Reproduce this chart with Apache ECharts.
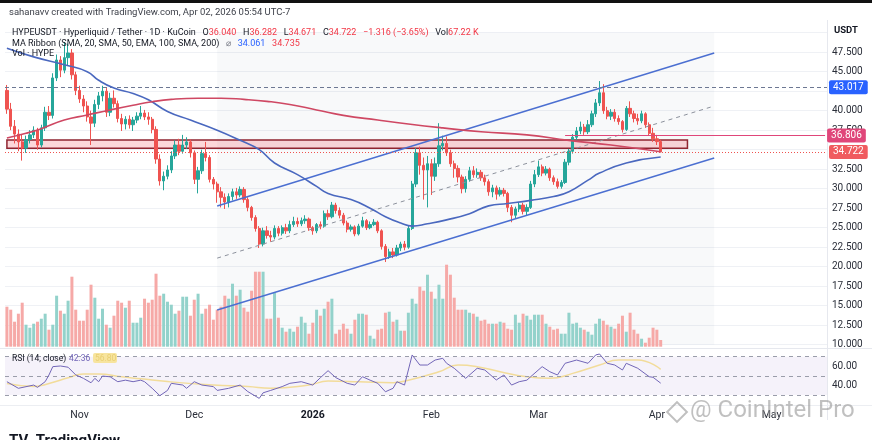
<!DOCTYPE html>
<html>
<head>
<meta charset="utf-8">
<title>HYPEUSDT 1D</title>
<script src="https://cdn.jsdelivr.net/npm/echarts@6/dist/echarts.min.js"></script>
<style>
  html, body { margin: 0; padding: 0; background: #fff; }
  #main { width: 872px; height: 440px; }
</style>
</head>
<body>
<div id="main"></div>
<script>
// daily candles, first one on startDate, then empty days to the right of the last candle
var startDate = '2025-10-13';
var futureDays = 43;
var monthNames = ['Jan', 'Feb', 'Mar', 'Apr', 'May', 'Jun', 'Jul', 'Aug', 'Sep', 'Oct', 'Nov', 'Dec'];

var opens = [42.6,40.2,38.0,37.0,36.0,35.2,36.3,36.9,37.5,35.6, 37.8,39.8,39.4,44.2,46.5,45.2,46.8,47.4,44.6,42.6,
  41.5,40.6,39.2,38.4,40.8,41.9,42.5,39.8,41.6,40.9, 39.0,38.3,38.9,38.2,38.8,39.3,39.7,39.2,38.9,37.6,
  33.8,31.0,31.6,32.4,34.2,35.6,34.8,35.6,36.0,34.6, 31.2,32.3,34.5,34.0,31.2,30.6,29.6,28.9,28.3,29.0,
  29.6,29.2,29.9,28.6,27.6,26.3,24.9,22.9,24.6,24.0, 23.8,24.9,24.3,25.0,24.6,25.4,25.8,25.5,25.9,26.1,
  25.0,24.6,25.4,25.2,26.8,26.4,27.9,27.2,26.6,25.6, 24.8,25.1,24.2,25.2,25.9,25.0,25.4,25.7,24.6,22.6,
  21.3,21.9,21.5,22.4,22.9,22.5,24.9,30.6,34.6,33.0, 32.4,33.2,31.6,33.2,35.5,35.8,34.6,33.2,32.6,31.5,
  30.0,31.2,32.3,31.8,32.1,31.4,30.9,29.6,30.1,29.3, 29.8,29.4,27.6,26.6,27.4,27.9,27.1,27.6,30.6,31.8,
  32.8,32.0,32.5,31.4,30.9,30.3,30.8,33.4,34.8,36.6, 37.4,37.9,37.3,38.2,39.6,41.0,42.3,40.0,39.3,39.8,
  39.0,38.6,37.6,40.3,39.6,39.0,38.7,39.6,38.2,37.1, 36.4,36.04];
var closes = [40.2,38.0,37.0,36.0,35.2,36.3,36.9,37.5,35.6,37.8, 39.8,39.4,44.2,46.5,45.2,46.8,47.4,44.6,42.6,41.5,
  40.6,39.2,38.4,40.8,41.9,42.5,39.8,41.6,40.9,39.0, 38.3,38.9,38.2,38.8,39.3,39.7,39.2,38.9,37.6,33.8,
  31.0,31.6,32.4,34.2,35.6,34.8,35.6,36.0,34.6,31.2, 32.3,34.5,34.0,31.2,30.6,29.6,28.9,28.3,29.0,29.6,
  29.2,29.9,28.6,27.6,26.3,24.9,22.9,24.6,24.0,23.8, 24.9,24.3,25.0,24.6,25.4,25.8,25.5,25.9,26.1,25.0,
  24.6,25.4,25.2,26.8,26.4,27.9,27.2,26.6,25.6,24.8, 25.1,24.2,25.2,25.9,25.0,25.4,25.7,24.6,22.6,21.3,
  21.9,21.5,22.4,22.9,22.5,24.9,30.6,34.6,33.0,32.4, 33.2,31.6,33.2,35.5,35.8,34.6,33.2,32.6,31.5,30.0,
  31.2,32.3,31.8,32.1,31.4,30.9,29.6,30.1,29.3,29.8, 29.4,27.6,26.6,27.4,27.9,27.1,27.6,30.6,31.8,32.8,
  32.0,32.5,31.4,30.9,30.3,30.8,33.4,34.8,36.6,37.4, 37.9,37.3,38.2,39.6,41.0,42.3,40.0,39.3,39.8,39.0,
  38.6,37.6,40.3,39.6,39.0,38.7,39.6,38.2,37.1,36.4, 36.04,34.722];
var lows = [39.6,37.5,35.8,34.8,33.6,34.6,35.8,36.5,35.0,35.3, 37.4,38.8,39.0,43.8,44.3,44.8,45.8,44.0,42.0,41.0,
  39.8,38.6,35.6,37.9,40.2,41.2,39.2,39.3,40.4,38.5, 37.4,37.6,37.7,37.4,38.4,38.9,38.8,38.2,37.1,33.2,
  30.4,29.8,31.2,32.0,33.8,34.3,34.5,35.1,34.0,30.6, 29.4,31.9,33.5,30.8,29.9,28.2,27.6,27.4,27.6,28.5,
  28.7,28.9,28.2,27.1,25.9,24.5,22.4,22.6,23.6,23.2, 23.5,23.9,24.0,24.2,24.3,25.1,25.1,25.2,25.5,24.6,
  24.1,24.3,24.8,25.0,26.0,26.2,26.8,26.2,25.3,24.4, 24.5,23.9,24.0,25.0,24.7,24.8,25.2,24.3,22.2,20.6,
  21.0,21.1,21.3,22.0,22.1,22.3,24.7,30.2,31.8,28.6, 27.6,29.2,31.0,32.8,34.9,34.2,32.8,31.4,30.8,29.4,
  29.5,30.9,31.4,31.4,31.0,30.4,29.1,28.9,28.6,29.0, 29.0,27.0,25.7,26.2,27.0,26.7,26.6,27.4,30.2,31.5,
  31.6,31.7,31.0,30.5,30.0,30.0,30.6,33.0,34.5,36.2, 37.0,36.9,37.0,37.9,39.2,40.6,39.6,38.9,38.8,38.6,
  38.2,37.2,37.4,39.2,38.5,38.2,38.4,37.8,36.8,36.0, 35.6,34.671];
var highs = [43.3,41.0,38.8,37.6,36.9,36.8,37.5,38.0,37.8,38.2, 40.5,40.6,44.8,47.2,47.0,48.8,48.6,47.9,45.0,43.2,
  42.0,41.2,40.0,41.4,42.4,43.2,42.9,42.3,42.6,41.3, 39.6,39.3,39.4,39.2,39.8,40.6,40.1,39.8,39.2,38.0,
  34.4,32.2,33.0,34.8,36.2,36.4,36.9,36.6,36.3,34.9, 32.8,35.0,36.0,34.3,31.5,30.9,30.2,29.4,29.4,30.0,
  30.1,30.3,30.2,28.9,27.8,26.6,25.2,25.0,25.2,24.6, 25.3,25.2,25.3,25.5,25.9,26.4,26.3,26.3,26.6,26.3,
  25.2,25.6,25.8,27.2,27.3,28.3,28.2,27.6,26.9,25.9, 25.4,25.3,25.5,26.4,26.1,25.8,26.1,25.9,24.8,22.9,
  22.3,22.4,22.8,23.2,23.3,25.3,31.0,35.2,35.4,34.0, 34.2,33.8,34.0,38.4,36.8,36.7,35.0,33.6,33.0,31.8,
  31.6,32.8,32.9,32.6,32.4,31.8,31.2,30.5,30.4,30.2, 30.1,29.6,27.9,27.7,28.3,28.2,28.0,31.0,32.4,33.6,
  33.1,32.9,32.7,31.7,31.3,31.1,33.8,35.1,37.0,37.9, 38.6,38.3,38.8,40.0,41.5,43.8,43.4,40.5,40.2,40.2,
  39.4,38.8,40.6,41.2,40.0,39.6,40.0,39.8,38.5,37.8, 36.9,36.282];
// volume in thousands of HYPE
var volumes = [400,370,250,330,440,220,190,230,250,280, 330,170,220,510,360,330,460,700,370,260,
  260,370,620,490,280,380,220,190,310,460, 440,390,460,240,240,290,480,440,470,730,
  510,530,450,420,330,360,500,500,310,470, 530,330,380,420,270,370,400,510,480,630,
  510,570,390,350,560,750,750,750,280,280, 540,290,190,150,180,150,200,300,240,130,
  240,370,310,380,450,480,130,170,230,180, 130,270,330,330,320,110,80,170,180,340,
  350,250,270,160,160,340,480,430,600,560, 720,550,480,620,480,820,720,490,370,370,
  370,340,330,300,260,270,230,230,230,250, 240,180,170,320,240,330,310,270,320,320,
  320,230,200,170,180,130,130,340,230,240, 190,170,150,120,230,280,260,220,200,180,
  230,310,150,340,170,130,80,40,90,190, 170,67.22];

// moving-average ribbon lines, read as [day index, price]
var maBlue = [[0,48.0],[7,46.9],[15,45.9],[21,45.0],[24,43.9],[28,42.9],[33,42.2],[37,41.4],[42,39.9],
  [48,38.8],[55,37.5],[61,36.2],[66,35.0],[70,33.3],[76,31.8],[81,30.3],[84,29.4],[90,28.6],[95,27.5],
  [99,26.4],[103,25.6],[106,25.2],[110,25.5],[115,26.0],[121,26.8],[126,27.8],[131,28.1],[137,28.5],
  [143,29.0],[147,29.6],[152,31.1],[155,32.0],[162,33.3],[171,34.061]];
var maRed = [[0,36.5],[5,37.1],[9,37.7],[15,38.8],[21,39.45],[27,40.1],[33,40.7],[38,41.15],[43,41.45],
  [50,41.6],[56,41.6],[62,41.45],[68,41.2],[74,40.8],[81,40.1],[88,39.4],[97,38.8],[105,38.3],
  [114,37.8],[124,37.3],[136,36.9],[147,36.2],[158,35.6],[171,34.735]];

// RSI(14) and its moving average, read as [day index, value]
var rsiLine = [[0,43.9],[3,37],[7,40.4],[8,38],[10,43.9],[11,50.9],[12,59.6],[14,60.3],[16,59],[18,51],
  [20,47.4],[22,42.8],[23,47.4],[24,43.9],[25,49.8],[27,49],[29,43.9],[31,45.5],[33,43.9],[35,45.5],
  [36,43.9],[38,37],[40,29.3],[42,34.8],[43,42.2],[46,40.4],[47,37],[49,43.9],[51,40.4],[54,38.8],
  [55,34.8],[58,37],[61,40.4],[63,33.6],[66,26.5],[67,32.3],[69,34.8],[72,38.8],[74,42.2],[77,43.9],
  [80,40.4],[82,48.1],[84,55.4],[86,48.2],[89,42.2],[91,40.4],[93,49.1],[95,45.5],[97,42.2],[99,33.4],
  [101,37],[102,43.9],[104,40.4],[106,71.8],[108,61.3],[110,61.3],[112,66.5],[114,68.3],[115,63.1],
  [117,57.9],[120,47.4],[123,57.9],[125,56.1],[128,45.7],[130,50.9],[132,40.4],[134,43.9],[136,45.5],
  [137,49.1],[140,59.6],[142,54.3],[144,50.9],[146,63.1],[149,66.5],[152,63.1],[154,71.8],[155,72.8],
  [157,63.1],[159,61.3],[161,56.1],[162,63.1],[165,57.9],[168,49.1],[169,48.5],[171,42.36]];
var rsiMa = [[0,42],[7,39],[11,42],[16,48],[20,52],[24,52],[30,49],[35,47],[42,44],[54,40.4],[63,38.8],
  [69,37],[79,40.4],[84,44.5],[92,43.9],[101,42.9],[105,45.5],[113,54.3],[118,61.3],[123,59.6],
  [129,54.3],[136,49.1],[142,47.4],[148,52.6],[155,61.3],[160,66.5],[165,66.5],[171,56.8]];
var rsiLevels = [70, 50, 30];

// drawings: ascending channel (day index, price) and horizontal levels
var channelX = [55, 185];
var channelUpper = [27.78, 47.4];
var channelMid = [21.1, 40.6];
var channelLower = [14.45, 33.94];
var resistanceLevel = 43.017;
var pinkLevel = 36.806;
var pinkLevelStart = 146;
var lastPrice = 34.722;
var zonePrices = [35.2, 36.24];
var zoneX = [0, 178];
// axis labels that sit under the level tags
var hiddenPriceLabels = [42.5, 35];

var FONT = 'Roboto, "Noto Sans", sans-serif';
var UP = '#26a69a', DOWN = '#ef5350';
var VOL_UP = '#93d2cb', VOL_DOWN = '#f6a9a7';

var categories = [];
var d0 = new Date(startDate + 'T00:00:00Z');
for (var k = 0; k < closes.length + futureDays; k++) {
  categories.push(new Date(d0.getTime() + k * 86400000).toISOString().slice(0, 10));
}

var candles = opens.map(function (o, i) { return [o, closes[i], lows[i], highs[i]]; });
var volData = volumes.map(function (v, i) {
  return { value: v, itemStyle: { color: closes[i] >= opens[i] ? VOL_UP : VOL_DOWN } };
});

function xAxisFor(g) {
  return {
    type: 'category', gridIndex: g, data: categories, boundaryGap: true,
    axisLine: { show: false }, axisTick: { show: false }, splitLine: { show: false },
    axisLabel: {
      show: g === 2, margin: 5, color: '#2a2e39', fontSize: 10.5, fontFamily: FONT,
      interval: function (idx, val) { return val.slice(8) === '01'; },
      formatter: function (val) {
        var m = +val.slice(5, 7);
        return m === 1 ? '{y|' + val.slice(0, 4) + '}' : monthNames[m - 1];
      },
      rich: { y: { fontWeight: 'bold', fontSize: 10.5, color: '#131722', fontFamily: FONT } }
    }
  };
}

function levelLabel(bg, value) {
  return {
    show: true, position: 'end', distance: 2, color: '#fff', fontSize: 10, fontFamily: FONT,
    backgroundColor: bg, padding: [2, 4, 2, 4], borderRadius: 2,
    formatter: value.toFixed(3)
  };
}

var blueLine = { color: '#4b6fd1', width: 1.4, type: 'solid' };
var midLine = { color: '#8c919c', width: 1, type: [4, 4] };
var pinkLine = { color: '#e0467a', width: 1, type: 'solid' };

var chart = echarts.init(document.getElementById('main'));
chart.setOption({
  animation: false,
  backgroundColor: '#ffffff',
  textStyle: { fontFamily: FONT },
  grid: [
    { left: 5, right: 45, top: 32.7, height: 312, outerBoundsMode: 'none' },
    { left: 5, right: 45, top: 246.7, height: 100, outerBoundsMode: 'none' },
    { left: 5, right: 45, top: 347.1, height: 57.5, outerBoundsMode: 'none' }
  ],
  xAxis: [xAxisFor(0), xAxisFor(1), xAxisFor(2)],
  yAxis: [
    {
      gridIndex: 0, type: 'value', position: 'right', min: 10, max: 50, interval: 2.5,
      axisLine: { show: false }, axisTick: { show: false },
      axisLabel: { margin: 5, color: '#2a2e39', fontSize: 10, fontFamily: FONT, showMaxLabel: false,
        formatter: function (v) { return hiddenPriceLabels.indexOf(v) >= 0 ? '' : v.toFixed(3); } },
      splitLine: { lineStyle: { color: '#eff1f5', width: 1 } }
    },
    { gridIndex: 1, type: 'value', min: 0, max: 1000, show: false },
    {
      gridIndex: 2, type: 'value', position: 'right', min: 20, max: 80, interval: 20,
      axisLine: { show: false }, axisTick: { show: false }, splitLine: { show: false },
      axisLabel: { margin: 5, color: '#2a2e39', fontSize: 10, fontFamily: FONT,
        formatter: function (v) { return (v === 40 || v === 60) ? v.toFixed(2) : ''; } }
    }
  ],
  series: [
    {
      type: 'bar', name: 'Vol', xAxisIndex: 1, yAxisIndex: 1, data: volData,
      barWidth: 3, z: 2, silent: true
    },
    {
      type: 'candlestick', name: 'HYPEUSDT', xAxisIndex: 0, yAxisIndex: 0, data: candles, z: 4,
      barWidth: 2.8,
      itemStyle: { color: UP, color0: DOWN, borderColor: UP, borderColor0: DOWN, borderWidth: 1 },
      markArea: {
        silent: true,
        data: [
          // shaded span of the channel drawing
          [{ xAxis: channelX[0], itemStyle: { color: 'rgba(120,128,150,0.05)', borderWidth: 0 } }, { xAxis: channelX[1] }],
          [{ coord: [zoneX[0], zonePrices[1]], itemStyle: { color: 'rgba(242,54,69,0.2)', borderColor: '#8f2430', borderWidth: 1.5 } },
           { coord: [zoneX[1], zonePrices[0]] }]
        ]
      },
      markLine: {
        silent: true, symbol: ['none', 'none'], animation: false,
        label: { show: false },
        data: [
          [{ coord: [channelX[0], channelUpper[0]], lineStyle: blueLine }, { coord: [channelX[1], channelUpper[1]], lineStyle: blueLine }],
          [{ coord: [channelX[0], channelLower[0]], lineStyle: blueLine }, { coord: [channelX[1], channelLower[1]], lineStyle: blueLine }],
          [{ coord: [channelX[0], channelMid[0]], lineStyle: midLine }, { coord: [channelX[1], channelMid[1]], lineStyle: midLine }],
          { yAxis: resistanceLevel, lineStyle: { color: '#6d7893', width: 1, type: [4, 3] }, label: levelLabel('#2962ff', resistanceLevel) },
          { yAxis: lastPrice, lineStyle: { color: '#ef5350', width: 1, type: [1, 2] }, label: levelLabel('#f05b5f', lastPrice) },
          [{ coord: [pinkLevelStart, pinkLevel], lineStyle: pinkLine, label: levelLabel('#e0467a', pinkLevel) },
           { coord: [categories.length - 1, pinkLevel], lineStyle: pinkLine, label: levelLabel('#e0467a', pinkLevel) }]
        ]
      }
    },
    {
      type: 'line', name: 'MA blue', xAxisIndex: 0, yAxisIndex: 0, data: maBlue, smooth: 0.5,
      showSymbol: false, symbol: 'none', silent: true, z: 5,
      lineStyle: { color: '#4a68bf', width: 1.6 }
    },
    {
      type: 'line', name: 'MA red', xAxisIndex: 0, yAxisIndex: 0, data: maRed, smooth: 0.5,
      showSymbol: false, symbol: 'none', silent: true, z: 5,
      lineStyle: { color: '#cf4863', width: 1.6 }
    },
    {
      type: 'line', name: 'RSI', xAxisIndex: 2, yAxisIndex: 2, data: rsiLine,
      showSymbol: false, symbol: 'none', silent: true, z: 5,
      lineStyle: { color: '#7266b8', width: 1 },
      markArea: {
        silent: true, itemStyle: { color: 'rgba(126,87,194,0.08)' },
        data: [[{ yAxis: rsiLevels[0] }, { yAxis: rsiLevels[2] }]]
      },
      markLine: {
        silent: true, symbol: ['none', 'none'], label: { show: false },
        lineStyle: { color: '#9a9daa', width: 1, type: [4, 4] },
        data: rsiLevels.map(function (v) { return { yAxis: v }; })
      }
    },
    {
      type: 'line', name: 'RSI MA', xAxisIndex: 2, yAxisIndex: 2, data: rsiMa, smooth: 0.5,
      showSymbol: false, symbol: 'none', silent: true, z: 4,
      lineStyle: { color: '#f2dc9a', width: 1.5 }
    }
  ],
  graphic: [
    { type: 'rect', shape: { x: 0, y: 0, width: 872, height: 3 }, style: { fill: '#111' } },
    { type: 'text', left: 9, top: 8, style: { text: 'sahanavv created with TradingView.com, Apr 02, 2026 05:54 UTC-7',
      fill: '#3c3f48', fontSize: 9.5, fontFamily: FONT } },
    { type: 'text', left: 12, top: 27, z: 10, style: {
      text: '{d|HYPEUSDT · Hyperliquid / Tether · 1D · KuCoin}  {d|O}{r|36.040}  {d|H}{r|36.282}  {d|L}{r|34.671}  {d|C}{r|34.722}  {r|−1.316 (−3.65%)}  {d|Vol}{r|67.22 K}',
      rich: { d: { fill: '#131722', fontSize: 9, fontFamily: FONT }, r: { fill: '#f23645', fontSize: 9, fontFamily: FONT } } } },
    { type: 'text', left: 12, top: 38, z: 10, style: {
      text: '{d|MA Ribbon (SMA, 20, SMA, 50, EMA, 100, SMA, 200)}  {g|⌀}  {b|34.061}  {r|34.735}',
      rich: { d: { fill: '#131722', fontSize: 9, fontFamily: FONT }, g: { fill: '#787b86', fontSize: 9 },
        b: { fill: '#2962ff', fontSize: 9, fontFamily: FONT }, r: { fill: '#f23645', fontSize: 9, fontFamily: FONT } } } },
    { type: 'text', left: 12, top: 49, z: 10, style: { text: 'Vol · HYPE', fill: '#131722', fontSize: 9, fontFamily: FONT } },
    { type: 'text', left: 834, top: 26, style: { text: 'USDT', fill: '#131722', fontSize: 9.5, fontWeight: 'bold', fontFamily: FONT } },
    { type: 'line', shape: { x1: 827.5, y1: 20, x2: 827.5, y2: 420 }, style: { stroke: '#e6e8ee', lineWidth: 1 } },
    { type: 'line', shape: { x1: 0, y1: 348.5, x2: 872, y2: 348.5 }, style: { stroke: '#e6e8ee', lineWidth: 1 } },
    { type: 'line', shape: { x1: 0, y1: 405.5, x2: 872, y2: 405.5 }, style: { stroke: '#eceef2', lineWidth: 1 } },
    { type: 'text', left: 12, top: 354, z: 10, style: { text: 'RSI (14, close)', fill: '#131722', fontSize: 8.5, fontFamily: FONT } },
    { type: 'text', left: 69, top: 354, z: 10, style: { text: '42.36', fill: '#7266b8', fontSize: 8.5, fontFamily: FONT } },
    { type: 'rect', shape: { x: 93, y: 353, width: 24, height: 10, r: 2 }, z: 10, style: { fill: '#f7e49e' } },
    { type: 'text', left: 95, top: 354, z: 11, style: { text: '56.80', fill: '#e9cf73', fontSize: 8.5, fontFamily: FONT } },
    { type: 'rect', shape: { x: 670, y: 405, width: 14, height: 14 }, rotation: Math.PI / 4, originX: 677, originY: 412, z: 12,
      style: { fill: 'none', stroke: 'rgba(150,150,150,0.6)', lineWidth: 2 } },
    { type: 'text', left: 690, top: 399, z: 12, style: { text: '@ CoinIntel Pro', fill: 'rgba(150,150,150,0.6)', fontSize: 24, fontFamily: FONT } },
    { type: 'text', left: 9, top: 434, style: { text: 'TV  TradingView', fill: '#131722', fontSize: 15, fontWeight: 'bold', fontFamily: FONT } }
  ]
});
</script>
</body>
</html>
